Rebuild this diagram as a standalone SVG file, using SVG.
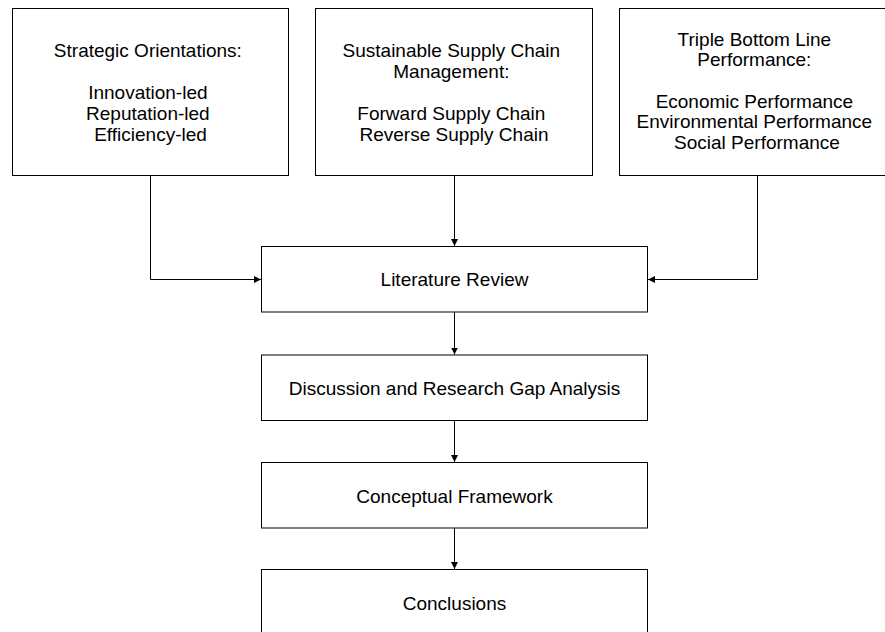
<svg xmlns="http://www.w3.org/2000/svg" width="885" height="632" viewBox="0 0 885 632">
  <style>
    .box { fill: #ffffff; stroke: #000000; stroke-width: 1; }
    .lbl { font-family: "Liberation Sans", Arial, sans-serif; font-size: 19px; fill: #000000; text-anchor: middle; }
    .edge { fill: none; stroke: #000000; stroke-width: 1; }
  </style>
  <defs>
    <marker id="arrow" viewBox="0 0 10 10" refX="10" refY="5" markerWidth="7" markerHeight="7" markerUnits="userSpaceOnUse" orient="auto">
      <path d="M0,0 L10,5 L0,10 Z" fill="#000000"/>
    </marker>
  </defs>

  <rect width="885" height="632" fill="#ffffff"/>

  <g id="strategic-orientations">
    <rect class="box" x="12.5" y="8.5" width="276" height="167"/>
    <text class="lbl" x="150.5">
      <tspan x="150.5" y="57">Strategic Orientations:</tspan>
      <tspan x="150.5" y="99">Innovation-led</tspan>
      <tspan x="150.5" y="120">Reputation-led</tspan>
      <tspan x="150.5" y="141">Efficiency-led</tspan>
    </text>
  </g>

  <g id="sscm">
    <rect class="box" x="315.5" y="8.5" width="277" height="167"/>
    <text class="lbl">
      <tspan x="454" y="57">Sustainable Supply Chain</tspan>
      <tspan x="454" y="78">Management:</tspan>
      <tspan x="454" y="120">Forward Supply Chain</tspan>
      <tspan x="454" y="141">Reverse Supply Chain</tspan>
    </text>
  </g>

  <g id="tbl-performance">
    <rect class="box" x="619.5" y="8.5" width="276" height="167"/>
    <text class="lbl">
      <tspan x="757" y="45.5">Triple Bottom Line</tspan>
      <tspan x="757" y="66">Performance:</tspan>
      <tspan x="757" y="107.5">Economic Performance</tspan>
      <tspan x="757" y="128">Environmental Performance</tspan>
      <tspan x="757" y="148.5">Social Performance</tspan>
    </text>
  </g>

  <g id="literature-review">
    <rect class="box" x="261.5" y="246.5" width="386" height="65.5"/>
    <text class="lbl" x="454.5" y="286">Literature Review</text>
  </g>

  <g id="gap-analysis">
    <rect class="box" x="261.5" y="355" width="386" height="65.5"/>
    <text class="lbl" x="454.5" y="395">Discussion and Research Gap Analysis</text>
  </g>

  <g id="conceptual-framework">
    <rect class="box" x="261.5" y="462.5" width="386" height="65.5"/>
    <text class="lbl" x="454.5" y="502.5">Conceptual Framework</text>
  </g>

  <g id="conclusions">
    <rect class="box" x="261.5" y="569.5" width="386" height="65.5"/>
    <text class="lbl" x="454.5" y="609.5">Conclusions</text>
  </g>

  <g id="connectors">
    <path class="edge" d="M150.5,175.5 V279.5 H261" marker-end="url(#arrow)"/>
    <path class="edge" d="M454.5,175.5 V246" marker-end="url(#arrow)"/>
    <path class="edge" d="M757.5,175.5 V279.5 H648" marker-end="url(#arrow)"/>
    <path class="edge" d="M454.5,312 V354.5" marker-end="url(#arrow)"/>
    <path class="edge" d="M454.5,420.5 V462" marker-end="url(#arrow)"/>
    <path class="edge" d="M454.5,528 V569" marker-end="url(#arrow)"/>
  </g>
</svg>
